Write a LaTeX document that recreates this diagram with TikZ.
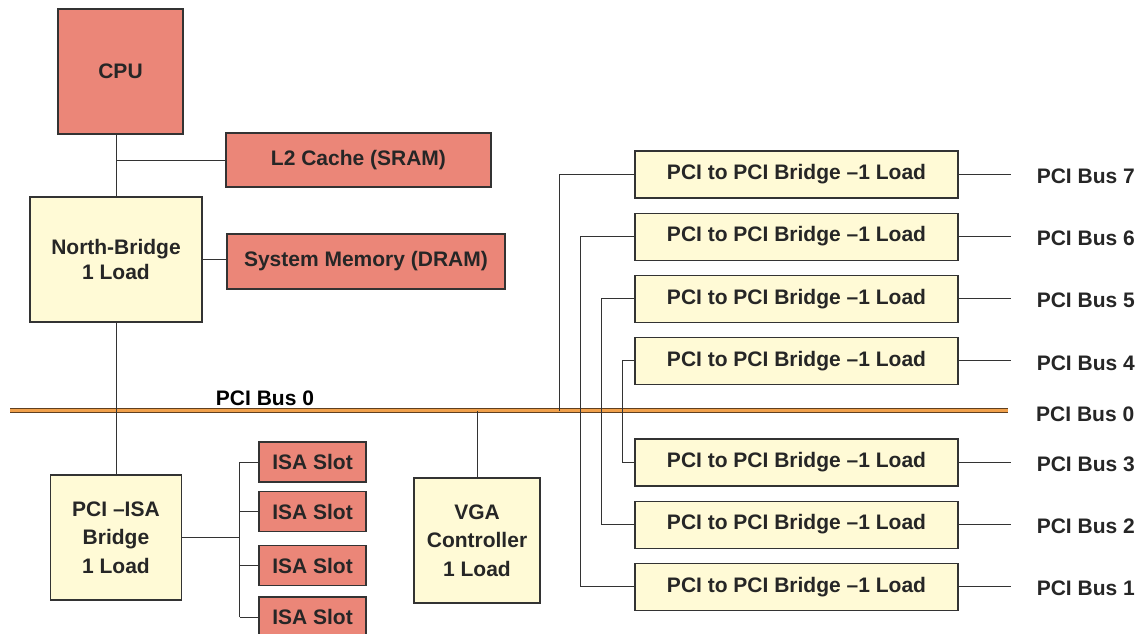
\documentclass[tikz,border=0pt]{standalone}
\usepackage{fontspec}
\setmainfont{Liberation Sans}
\usetikzlibrary{%
  calc,%
  positioning% wg. " of "
}
\definecolor{salmon}{RGB}{235,134,120}
\definecolor{paleyellow}{RGB}{255,250,214}
\definecolor{busorange}{RGB}{240,160,75}
\definecolor{edge}{RGB}{51,51,51}

\begin{document}
\begin{tikzpicture}[x=1pt,y=-1pt,font=\fontsize{21}{28.5}\selectfont\bfseries]
       \tikzset{chip/.style ={rectangle, draw=edge, line width=1.1pt, fill=salmon, inner sep=0pt, text=black!85}}
       \tikzset{hub/.style={rectangle, draw=edge, line width=1.1pt, fill=paleyellow, inner sep=0pt, text=black!85, align=center}}
       \tikzset{ppbbox/.style={hub, minimum width=323pt, minimum height=47pt}}
       \tikzset{wire/.style={draw=edge, line width=0.9pt}}
       \tikzset{bus/.style={draw=brown!50!black, line width=1pt, double=busorange, double distance=2.6pt}}
       \tikzset{buslabel/.style={anchor=west, inner sep=0pt, text=black!85}}

        \useasboundingbox (0,0) rectangle (1137,633);

        \node[chip, minimum width=125pt, minimum height=125pt] (cpu) at (120.5,71.5) {CPU};
        \node[chip, minimum width=265pt, minimum height=54pt] (cache) at (358.5,160) {L2 Cache (SRAM)};
        \node[hub, minimum width=172pt, minimum height=125pt] (nbridge) at (116,259.5) {North-Bridge\\[-3.5pt]1 Load};
        \node[chip, minimum width=278pt, minimum height=55pt] (sysmem) at (366,261.5) {System Memory (DRAM)};

        \node[hub, minimum width=131pt, minimum height=125pt] (isabridge) at (116,537.5) {PCI –ISA\\Bridge\\1 Load};
        \foreach \y [count=\i] in {462,511.5,565.5,617}
          \node[chip, minimum width=107pt, minimum height=40pt] (slot\i) at (312.5,\y) {ISA Slot};
        \node[hub, minimum width=126pt, minimum height=125pt] (vga) at (477,540.5) {VGA\\Controller\\1 Load};

        \node[ppbbox] (ppb7) at (796.5,174.5) {PCI to PCI Bridge –1 Load};
        \node[ppbbox, below=14pt of ppb7] (ppb6) {PCI to PCI Bridge –1 Load};
        \node[ppbbox, below=14pt of ppb6] (ppb5) {PCI to PCI Bridge –1 Load};
        \node[ppbbox, below=14pt of ppb5] (ppb4) {PCI to PCI Bridge –1 Load};
        \node[ppbbox] (ppb3) at (796.5,462.5) {PCI to PCI Bridge –1 Load};
        \node[ppbbox, below=14pt of ppb3] (ppb2) {PCI to PCI Bridge –1 Load};
        \node[ppbbox, below=14pt of ppb2] (ppb1) {PCI to PCI Bridge –1 Load};

        % PCI bus 0
        \coordinate (busleft) at (10,410.5);
        \coordinate (busright) at (1008,410.5);
        \draw[bus] (busleft) -- (busright);
        \node (bus0) at (265,398) {PCI Bus 0};
        \node[buslabel] (label0) at (1036,414) {PCI Bus 0};

        \draw[wire] (nbridge.north |- cpu.south) -- (nbridge.north);
        \draw[wire] (cache.west) -- (cache.west -| nbridge.north);
        \draw[wire] (nbridge.east) -- (nbridge.east -| sysmem.west);
        \draw[wire] (nbridge.south) -- (isabridge.north);
        \draw[wire] (vga.north) -- (vga.north |- busleft);

        \draw[wire] (isabridge.east) -- ++(57.5,0) coordinate (isahub);
        \draw[wire] (slot1.west -| isahub) -- (slot4.west -| isahub);
        \foreach \i in {1,...,4}
          \draw[wire] (slot\i.west -| isahub) -- (slot\i.west);

        \draw[wire] (ppb7.west) -- ++(-75,0) coordinate (tap7) -- (tap7 |- busleft);
        \foreach \a/\b/\d in {6/1/54,5/2/33,4/3/12}
          \draw[wire] (ppb\a.west) -- ++(-\d,0) |- (ppb\b.west);

        \foreach \n in {7,6,5,4,3,2,1}{
          \draw[wire] (ppb\n.east) -- ++(52,0) coordinate (end\n);
          \node[buslabel] (label\n) at ($(end\n)+(26,2)$) {PCI Bus \n};
        }
   \end{tikzpicture}
\end{document}
